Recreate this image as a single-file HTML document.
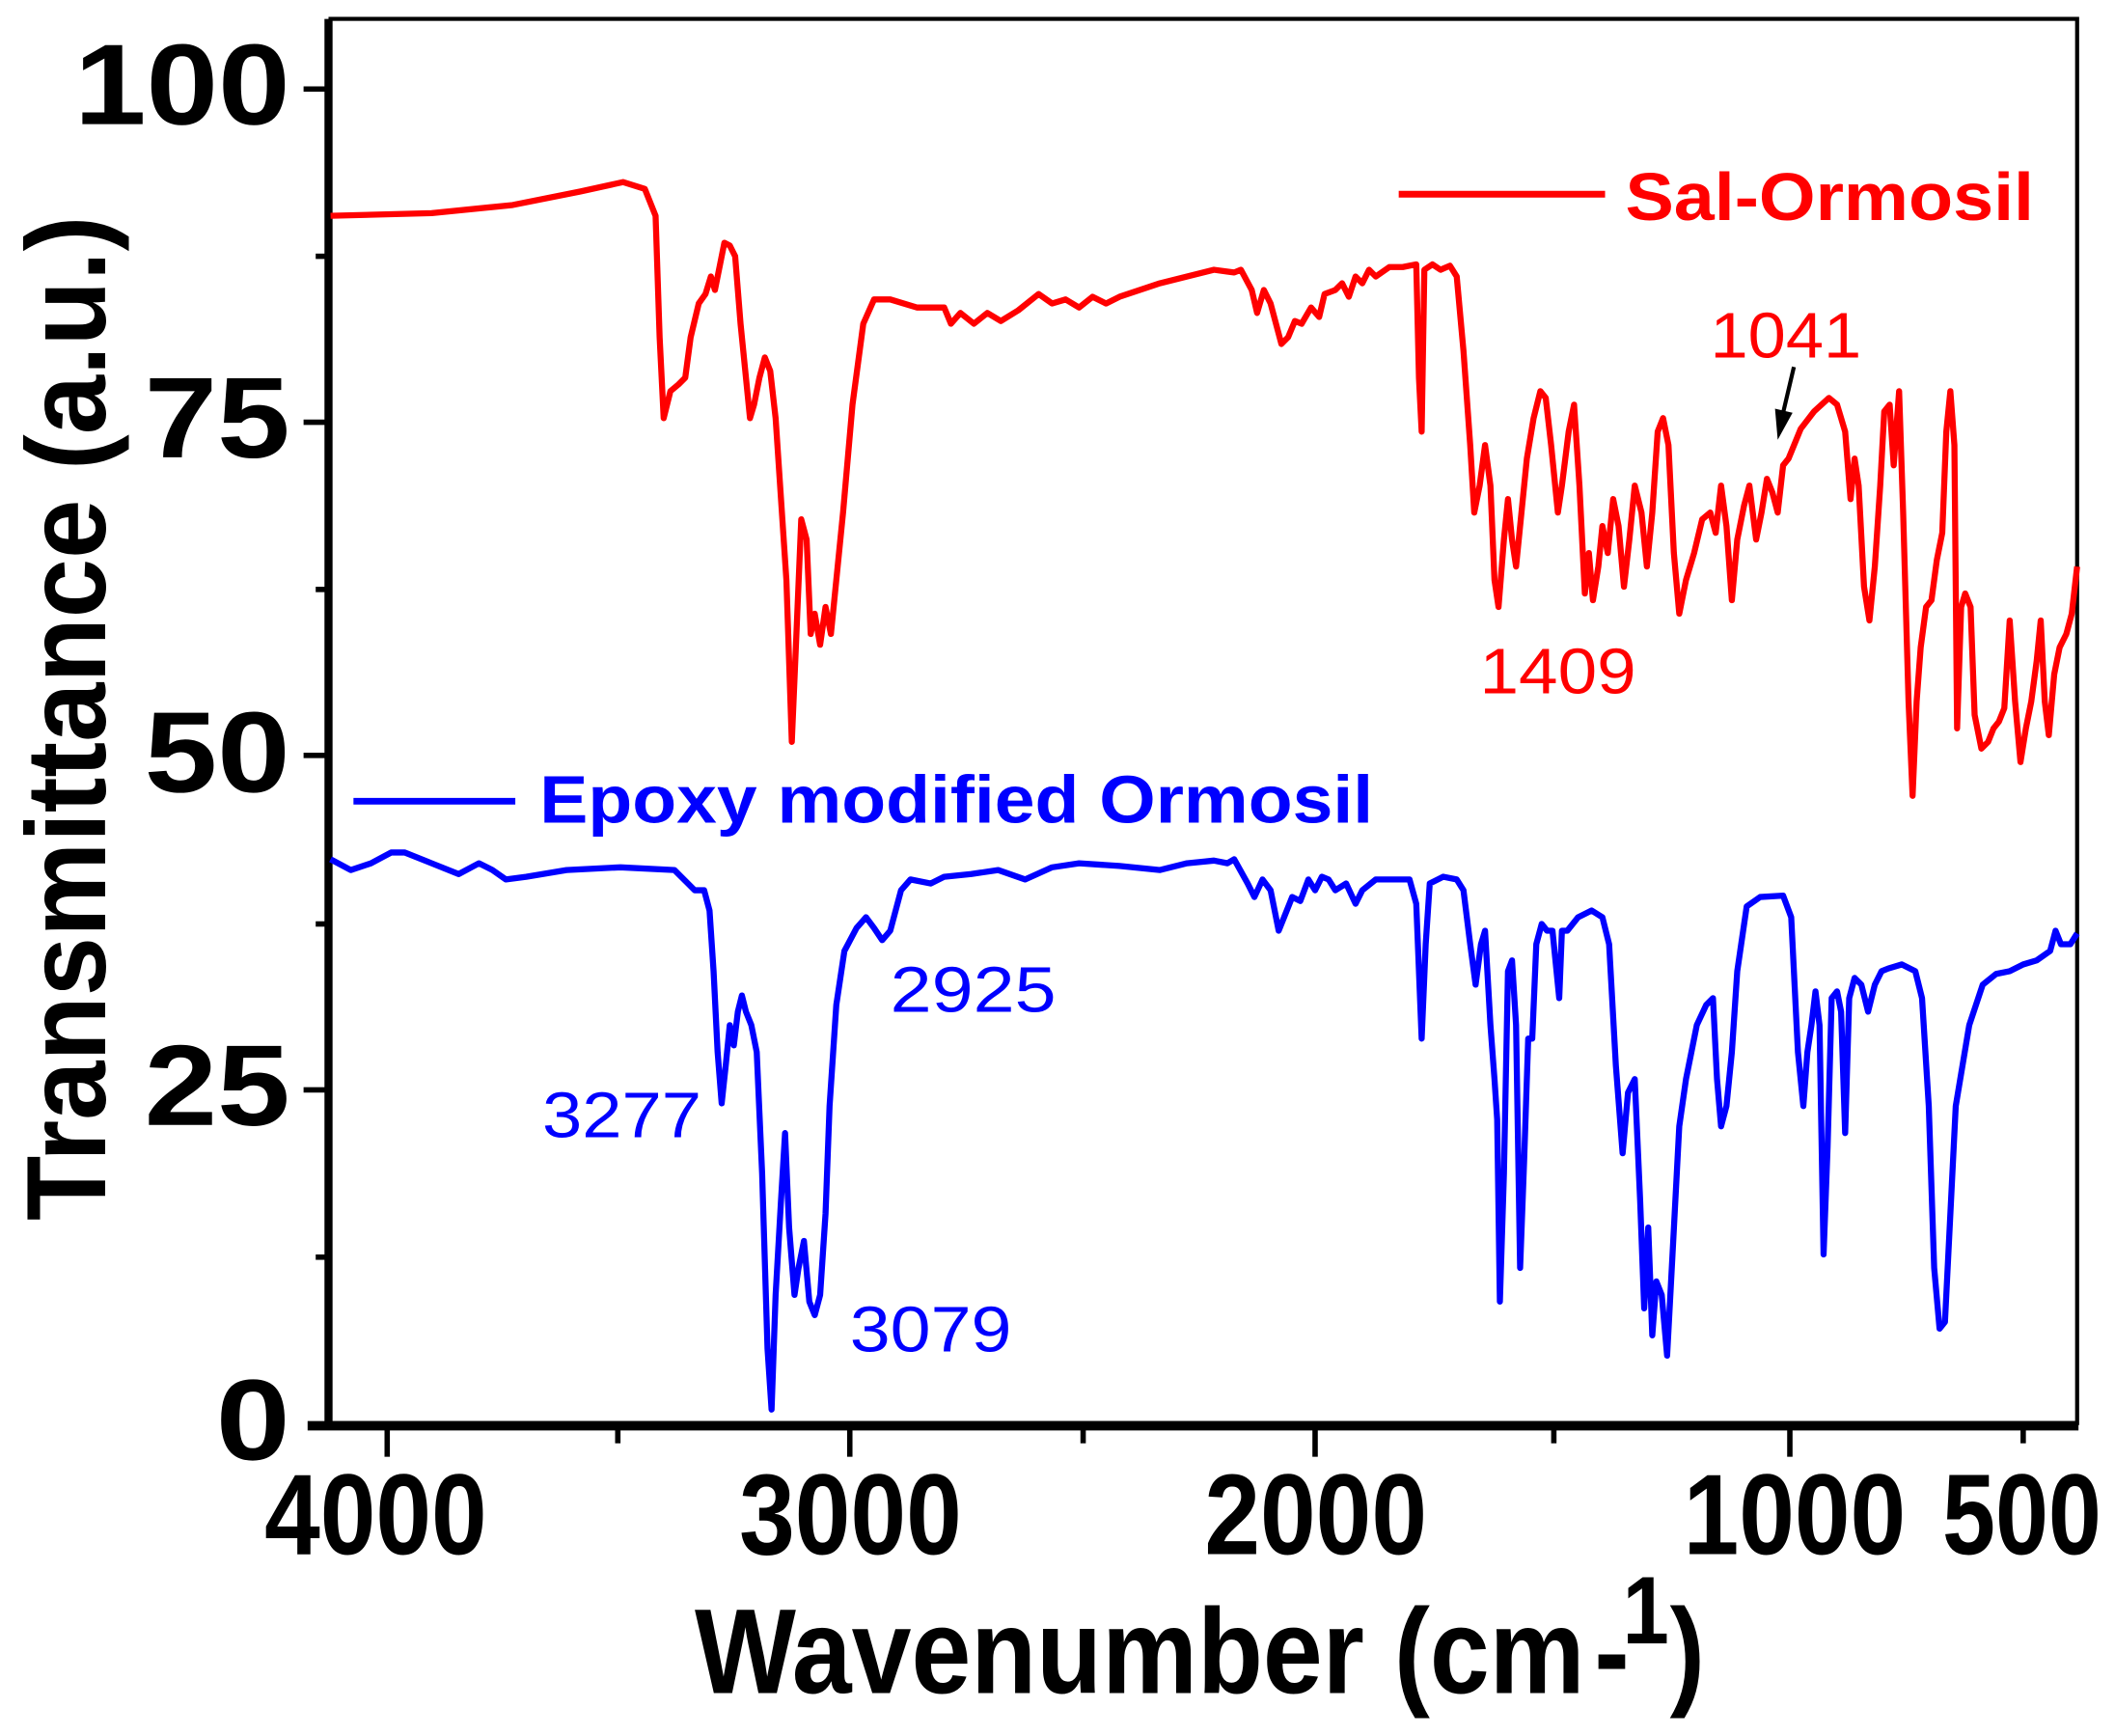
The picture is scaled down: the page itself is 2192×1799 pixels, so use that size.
<!DOCTYPE html>
<html><head><meta charset="utf-8"><style>
html,body{margin:0;padding:0;background:#fff;}
svg{display:block;}
text{font-family:"Liberation Sans",Arial,sans-serif;}
</style></head><body>
<svg width="2192" height="1799" viewBox="0 0 1568 1287" xmlns="http://www.w3.org/2000/svg">
<rect width="1568" height="1287" fill="#fff"/>
<rect x="245" y="14" width="1295" height="1041" fill="none" stroke="#000" stroke-width="3"/>
<line x1="243" y1="14" x2="243" y2="1058" stroke="#000" stroke-width="5"/>
<line x1="228" y1="1057" x2="1541" y2="1057" stroke="#000" stroke-width="7"/>
<g stroke="#000" stroke-width="4">
<line x1="225" y1="66" x2="245" y2="66"/>
<line x1="225" y1="313" x2="245" y2="313"/>
<line x1="225" y1="560" x2="245" y2="560"/>
<line x1="225" y1="808" x2="245" y2="808"/>
<line x1="234" y1="190" x2="245" y2="190"/>
<line x1="234" y1="437" x2="245" y2="437"/>
<line x1="234" y1="685" x2="245" y2="685"/>
<line x1="234" y1="932" x2="245" y2="932"/>
<line x1="287" y1="1058" x2="287" y2="1080"/>
<line x1="630" y1="1058" x2="630" y2="1080"/>
<line x1="975" y1="1058" x2="975" y2="1080"/>
<line x1="1327" y1="1058" x2="1327" y2="1080"/>
<line x1="458" y1="1058" x2="458" y2="1070"/>
<line x1="803" y1="1058" x2="803" y2="1070"/>
<line x1="1152" y1="1058" x2="1152" y2="1070"/>
<line x1="1500" y1="1058" x2="1500" y2="1070"/>
</g>
<g font-weight="bold" font-size="76" fill="#000">
<text transform="translate(0,92) scale(1,1.12)" x="55" y="0" textLength="160" lengthAdjust="spacingAndGlyphs">100</text>
<text transform="translate(0,339) scale(1,1.12)" x="107" y="0" textLength="108" lengthAdjust="spacingAndGlyphs">75</text>
<text transform="translate(0,587) scale(1,1.12)" x="107" y="0" textLength="108" lengthAdjust="spacingAndGlyphs">50</text>
<text transform="translate(0,834) scale(1,1.12)" x="107" y="0" textLength="108" lengthAdjust="spacingAndGlyphs">25</text>
<text transform="translate(0,1082) scale(1,1.12)" x="160" y="0" textLength="55" lengthAdjust="spacingAndGlyphs">0</text>
<text transform="translate(0,1152) scale(1,1.12)" x="196" y="0" textLength="165" lengthAdjust="spacingAndGlyphs">4000</text>
<text transform="translate(0,1152) scale(1,1.12)" x="548" y="0" textLength="165" lengthAdjust="spacingAndGlyphs">3000</text>
<text transform="translate(0,1152) scale(1,1.12)" x="893" y="0" textLength="165" lengthAdjust="spacingAndGlyphs">2000</text>
<text transform="translate(0,1152) scale(1,1.12)" x="1248" y="0" textLength="165" lengthAdjust="spacingAndGlyphs">1000</text>
<text transform="translate(0,1152) scale(1,1.12)" x="1440" y="0" textLength="118" lengthAdjust="spacingAndGlyphs">500</text>
</g>
<g transform="translate(0,1255) scale(1,1.15)">
<text x="515" y="0" font-weight="bold" font-size="78" textLength="660" lengthAdjust="spacingAndGlyphs">Wavenumber (cm</text>
<text x="1182" y="0" font-weight="bold" font-size="78">-</text>
<text x="1203" y="-32" font-weight="bold" font-size="62">1</text>
<text x="1238" y="0" font-weight="bold" font-size="78">)</text>
</g>
<text transform="translate(78,905) rotate(-90) scale(1,1.1)" font-weight="bold" font-size="76" textLength="745" lengthAdjust="spacingAndGlyphs">Transmittance (a.u.)</text>
<polyline fill="none" stroke="#ff0000" stroke-width="4.5" stroke-linejoin="round" points="245,160 320,158 380,152 430,142 462,135 478,140 486,160 489,250 492,310 497,290 503,285 508,280 512,250 518,225 523,218 527,205 530,215 534,195 537,180 541,182 545,190 549,240 553,280 556,310 559,300 563,280 567,265 571,275 575,310 579,370 583,430 587,550 590,480 594,385 598,400 601,470 604,455 608,478 612,450 616,470 620,430 625,380 632,300 640,240 648,222 660,222 680,228 700,228 705,240 712,232 722,240 732,232 742,238 755,230 770,218 780,225 790,222 800,228 810,220 820,225 830,220 845,215 860,210 880,205 900,200 915,202 920,200 928,215 932,232 937,215 942,225 950,255 955,250 960,238 965,240 972,228 978,235 982,218 990,215 995,210 1000,220 1005,205 1010,210 1015,200 1020,205 1030,198 1040,198 1050,196 1052,280 1054,320 1056,200 1062,196 1068,200 1075,197 1080,205 1085,260 1090,330 1093,380 1097,360 1101,330 1105,360 1108,430 1111,450 1115,400 1118,370 1121,400 1124,420 1128,380 1132,340 1137,310 1142,290 1146,295 1150,330 1155,380 1158,360 1163,320 1167,300 1171,360 1175,440 1178,410 1181,445 1185,420 1188,390 1192,410 1196,370 1200,390 1204,435 1208,400 1212,360 1217,380 1221,420 1225,380 1229,320 1233,310 1237,330 1241,410 1245,455 1250,430 1256,410 1262,385 1268,380 1272,395 1276,360 1280,390 1284,445 1288,400 1293,375 1297,360 1302,400 1306,380 1310,355 1314,365 1318,380 1322,345 1326,340 1335,318 1345,305 1356,295 1362,300 1368,320 1372,370 1375,340 1378,360 1382,435 1386,460 1390,420 1394,360 1397,305 1401,300 1404,345 1408,290 1411,380 1415,520 1418,590 1421,520 1424,480 1428,450 1432,445 1436,415 1440,395 1443,320 1446,290 1449,330 1451,540 1454,450 1457,440 1461,450 1464,530 1469,555 1474,550 1478,540 1482,535 1486,525 1490,460 1494,520 1498,565 1502,540 1506,520 1510,490 1513,460 1516,520 1519,545 1523,500 1527,480 1532,470 1536,455 1540,420"/>
<polyline fill="none" stroke="#0000ff" stroke-width="4.5" stroke-linejoin="round" points="245,637 260,645 275,640 290,632 300,632 320,640 340,648 355,640 365,645 375,652 390,650 420,645 460,643 500,645 510,655 515,660 522,660 526,675 529,720 532,780 535,818 538,790 541,760 544,775 547,750 550,738 553,750 557,760 561,780 565,870 569,1000 572,1045 575,960 579,890 582,840 585,910 589,960 592,940 596,920 600,965 604,975 608,960 612,900 615,820 620,745 626,705 635,688 642,680 648,688 654,697 660,690 668,660 675,652 690,655 700,650 720,648 740,645 760,652 780,643 800,640 830,642 860,645 880,640 900,638 910,640 915,637 925,655 930,665 936,652 942,660 948,690 952,680 958,665 964,668 970,652 975,660 980,650 985,652 990,660 998,655 1005,670 1010,660 1020,652 1035,652 1045,652 1050,670 1054,770 1057,700 1060,655 1070,650 1080,652 1085,660 1090,700 1094,730 1098,700 1101,690 1105,760 1108,800 1110,830 1112,965 1115,870 1118,720 1121,712 1124,760 1127,940 1130,860 1133,770 1136,770 1139,700 1143,685 1147,690 1151,690 1156,740 1158,690 1162,690 1170,680 1180,675 1188,680 1193,700 1198,790 1203,855 1207,810 1212,800 1216,890 1219,970 1222,910 1225,990 1228,950 1232,960 1236,1005 1240,930 1245,835 1250,800 1258,760 1265,745 1270,740 1273,800 1276,835 1280,820 1284,780 1288,720 1295,672 1305,665 1322,664 1328,680 1333,780 1337,820 1340,780 1343,760 1346,735 1349,760 1352,930 1355,850 1358,740 1362,735 1365,750 1368,840 1371,740 1375,725 1380,730 1385,750 1390,730 1395,720 1400,718 1410,715 1420,720 1425,740 1430,820 1434,940 1438,985 1442,980 1446,900 1450,820 1455,790 1460,760 1470,730 1480,722 1490,720 1500,715 1510,712 1520,705 1524,690 1528,700 1535,700 1540,692"/>
<line x1="1037" y1="144" x2="1190" y2="144" stroke="#ff0000" stroke-width="5"/>
<text x="1205" y="163" fill="#ff0000" font-weight="bold" font-size="50" textLength="303" lengthAdjust="spacingAndGlyphs">Sal-Ormosil</text>
<line x1="262" y1="594" x2="382" y2="594" stroke="#0000ff" stroke-width="5"/>
<text x="400" y="610" fill="#0000ff" font-weight="bold" font-size="50" textLength="618" lengthAdjust="spacingAndGlyphs">Epoxy modified Ormosil</text>
<g font-size="48">
<text x="1268" y="265" fill="#ff0000" textLength="112" lengthAdjust="spacingAndGlyphs">1041</text>
<text x="1097" y="514" fill="#ff0000" textLength="116" lengthAdjust="spacingAndGlyphs">1409</text>
<text x="660" y="750" fill="#0000ff" textLength="123" lengthAdjust="spacingAndGlyphs">2925</text>
<text x="402" y="843" fill="#0000ff" textLength="118" lengthAdjust="spacingAndGlyphs">3277</text>
<text x="630" y="1002" fill="#0000ff" textLength="120" lengthAdjust="spacingAndGlyphs">3079</text>
</g>
<line x1="1330" y1="272" x2="1322" y2="306" stroke="#000" stroke-width="3"/>
<polygon points="1316,303 1329,306 1318,326" fill="#000"/>
</svg>
</body></html>
